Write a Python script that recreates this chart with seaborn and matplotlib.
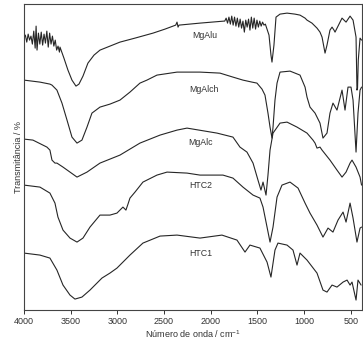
import seaborn as sns
import pandas as pd
import matplotlib.pyplot as plt

# FTIR spectra, values (arbitrary units, curves already offset)
mgalu_wn = [4000, 3985, 3970, 3955, 3940, 3925, 3910, 3895, 3880, 3870, 3860, 3845, 3830, 3815,
            3800, 3785, 3770, 3755, 3740, 3725, 3710, 3695, 3680, 3665, 3650, 3635, 3620,
            3614, 3572, 3529, 3486, 3443, 3411, 3368, 3315, 3250, 3186, 3079, 2972, 2811, 2618,
            2490, 2375, 2361, 2350, 2340, 2115, 1860,
            1850, 1835, 1820, 1805, 1790, 1775, 1760, 1745, 1730, 1715, 1700, 1685, 1670, 1655,
            1640, 1625, 1610, 1595, 1580, 1565, 1550, 1535, 1520, 1505, 1490, 1475, 1460, 1445,
            1430, 1415,
            1376, 1355, 1344, 1323, 1301, 1258, 1183, 1098, 1044, 990, 969, 916, 862, 830, 808,
            776, 755, 723, 701, 680, 669, 594, 551, 508, 476, 444, 434, 428, 420, 401, 385]
mgalu_t = [272, 275, 268, 276, 270, 274, 266, 279, 262, 284, 260, 277, 266, 278,
           265, 276, 267, 279, 263, 277, 266, 274, 264, 270, 260, 264, 258,
           263, 252, 240, 230, 224, 226, 234, 247, 255, 260, 264, 268, 272, 277,
           281, 285, 288, 283, 285, 287, 289,
           289, 292, 287, 293, 286, 294, 285, 293, 284, 292, 283, 291, 282, 289,
           278, 290, 283, 291, 280, 293, 282, 292, 281, 290, 283, 289, 284, 288,
           285, 286,
           275, 255, 248, 265, 293, 296, 297, 296, 295, 292, 290, 287, 282, 278, 273,
           257, 265, 280, 283, 280, 278, 292, 288, 294, 290, 273, 220, 222, 250, 272, 270]

mgalch_wn = [4000, 3829, 3722, 3700, 3668, 3647, 3593, 3539, 3486, 3432, 3379, 3325, 3272,
             3186, 3079, 2972, 2865, 2758, 2683, 2576, 2361, 2115, 1901, 1762, 1655, 1558,
             1505, 1451, 1419, 1387, 1365, 1344, 1333, 1312, 1290, 1258, 1151, 1044, 990,
             969, 937, 883, 830, 798, 755, 723, 691, 648, 594, 562, 530, 498, 476, 444, 423,
             401, 385]
mgalch_t = [230, 228, 226, 225, 222, 220, 207, 190, 173, 167, 170, 183, 197,
            203, 206, 210, 218, 227, 230, 235, 238, 238, 237, 233, 230, 228,
            227, 221, 215, 197, 183, 172, 183, 210, 227, 238, 239, 235, 223,
            213, 203, 197, 187, 172, 177, 197, 207, 200, 220, 200, 223, 223, 210, 158, 197,
            220, 223]

mgalc_wn = [4000, 3904, 3754, 3722, 3700, 3668, 3647, 3582, 3507, 3432, 3325, 3186, 2972,
            2758, 2543, 2361, 2254, 1933, 1762, 1687, 1612, 1547, 1494, 1462, 1440, 1408,
            1387, 1365, 1333, 1258, 1183, 1076, 969, 905, 883, 862, 830, 808, 723, 648, 594,
            551, 508, 487, 444, 401, 385]
mgalc_t = [171, 170, 163, 160, 150, 147, 147, 143, 138, 133, 138, 147, 155,
           167, 175, 180, 182, 177, 173, 163, 158, 147, 130, 120, 128, 115,
           135, 160, 177, 187, 188, 183, 177, 170, 167, 162, 163, 160, 150, 140, 133,
           138, 147, 150, 143, 133, 125]

htc2_wn = [4000, 3829, 3722, 3668, 3636, 3582, 3507, 3432, 3368, 3293, 3186, 3079, 3004,
           2940, 2908, 2886, 2865, 2811, 2726, 2576, 2468, 2254, 2115, 1869, 1762, 1655,
           1547, 1473, 1440, 1397, 1365, 1333, 1290, 1237, 1151, 1065, 990, 937, 862, 798,
           744, 691, 637, 583, 551, 508, 476, 434, 401, 385]
htc2_t = [125, 123, 117, 107, 93, 80, 72, 68, 72, 83, 95, 95, 97,
          103, 100, 106, 112, 118, 128, 135, 138, 137, 135, 135, 132, 123,
          115, 112, 103, 83, 68, 83, 113, 125, 128, 122, 107, 97, 85, 73,
          82, 78, 90, 98, 88, 107, 92, 68, 82, 83]

htc1_wn = [4000, 3829, 3722, 3647, 3582, 3507, 3454, 3379, 3293, 3165, 3079, 3004, 2865,
           2726, 2543, 2361, 2115, 1880, 1719, 1633, 1580, 1473, 1397, 1355, 1312, 1280,
           1183, 1119, 1076, 1044, 969, 862, 798, 755, 701, 648, 583, 540, 508, 487, 444,
           423, 390]
htc1_t = [57, 55, 52, 40, 25, 15, 11, 13, 20, 32, 37, 42, 55,
          67, 74, 75, 72, 75, 70, 58, 65, 62, 48, 33, 60, 67,
          65, 60, 45, 57, 50, 37, 20, 18, 25, 23, 28, 30, 25, 28, 10,
          30, 25]

samples = ['MgAlu', 'MgAlch', 'MgAlc', 'HTC2', 'HTC1']
spectra = [(mgalu_wn, mgalu_t), (mgalch_wn, mgalch_t), (mgalc_wn, mgalc_t),
           (htc2_wn, htc2_t), (htc1_wn, htc1_t)]

rows = []
for name, (wn, t) in zip(samples, spectra):
    for w, v in zip(wn, t):
        rows.append({'wn': w, 't': v, 'sample': name})
df = pd.DataFrame(rows)

sns.set_style('ticks')
plt.rcParams['font.family'] = ['Liberation Sans', 'DejaVu Sans']
plt.rcParams['mathtext.default'] = 'regular'

fig = plt.figure(figsize=(3.63, 3.43), dpi=100)
ax = fig.add_axes([0.066, 0.096, 0.93, 0.892])

line_color = '#262626'
sns.lineplot(data=df, x='wn', y='t', hue='sample', units='sample', estimator=None,
             palette={s: line_color for s in samples}, linewidth=0.8, legend=False,
             sort=False, ax=ax)

# sample names sit just under each curve's plateau
ax.text(2060, 275, 'MgAlu', fontsize=6.3, color='#333333', ha='center', va='center')
ax.text(2070, 221, 'MgAlch', fontsize=6.3, color='#333333', ha='center', va='center')
ax.text(2110, 168, 'MgAlc', fontsize=6.3, color='#333333', ha='center', va='center')
ax.text(2110, 125, 'HTC2', fontsize=6.3, color='#333333', ha='center', va='center')
ax.text(2110, 57, 'HTC1', fontsize=6.3, color='#333333', ha='center', va='center')

ax.set_xlim(4000, 385)
ax.set_ylim(0, 306)
ax.set_xticks([4000, 3500, 3000, 2500, 2000, 1500, 1000, 500])
ax.set_yticks([])
ax.tick_params(axis='x', labelsize=6.5, length=3, width=0.7, pad=2, colors='#333333')
for sp in ax.spines.values():
    sp.set_linewidth(0.8)
    sp.set_color('#444444')
ax.set_xlabel('Número de onda / cm$^{-1}$', fontsize=6.5, labelpad=2, color='#333333')
ax.set_ylabel('Transmitância / %', fontsize=6.5, labelpad=1, color='#333333')

fig.savefig('out.png', dpi=100)
